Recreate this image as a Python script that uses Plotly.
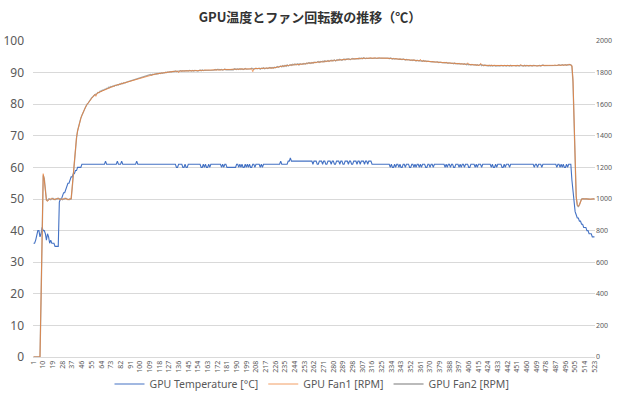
import plotly.graph_objects as go

# ---------------- data ----------------
tick_labels = [1, 10, 19, 28, 37, 46, 55, 64, 73, 82, 91, 100, 109, 118, 127, 136, 145, 154,
               163, 172, 181, 190, 199, 208, 217, 226, 235, 244, 253, 262, 271, 280, 289, 298,
               307, 316, 325, 334, 343, 352, 361, 370, 379, 388, 397, 406, 415, 424, 433, 442,
               451, 460, 469, 478, 487, 496, 505, 514, 523]

gpu_temp = [
    36, 36, 37, 39, 40, 40, 38, 39, 41, 40,
    40, 39, 37, 39, 38, 36, 37, 36, 36, 36,
    35, 35, 35, 35, 49, 50, 50, 51, 52, 52,
    53, 54, 55, 55, 56, 57, 57, 58, 58, 59,
    59, 60, 60, 60, 60, 61, 61, 61, 61, 61,
    61, 61, 61, 61, 61, 61, 61, 61, 61, 61,
    61, 61, 61, 61, 61, 61, 61, 62, 61, 61,
    61, 61, 61, 61, 61, 61, 61, 61, 62, 61,
    61, 61, 62, 61, 61, 61, 61, 61, 61, 61,
    61, 61, 61, 61, 61, 61, 62, 61, 61, 61,
    61, 61, 61, 61, 61, 61, 61, 61, 61, 61,
    61, 61, 61, 61, 61, 61, 61, 61, 61, 61,
    61, 61, 61, 61, 61, 61, 61, 61, 61, 61,
    61, 61, 61, 60, 60, 61, 61, 61, 61, 60,
    60, 61, 60, 60, 61, 61, 61, 61, 61, 61,
    61, 61, 61, 61, 61, 61, 60, 60, 61, 60,
    61, 60, 60, 61, 60, 61, 61, 61, 61, 61,
    61, 61, 61, 61, 61, 60, 61, 60, 61, 61,
    60, 60, 60, 60, 60, 60, 60, 60, 60, 61,
    61, 60, 61, 60, 61, 60, 60, 61, 60, 61,
    60, 61, 60, 60, 61, 61, 60, 61, 61, 61,
    61, 60, 61, 60, 61, 61, 61, 61, 61, 61,
    61, 61, 61, 61, 61, 61, 61, 61, 61, 61,
    62, 61, 61, 61, 61, 61, 61, 62, 62, 63,
    62, 62, 62, 62, 62, 62, 62, 62, 62, 62,
    62, 62, 62, 62, 62, 62, 62, 62, 62, 62,
    61, 62, 62, 62, 61, 61, 62, 62, 62, 61,
    62, 62, 61, 61, 62, 62, 62, 61, 62, 62,
    61, 61, 62, 62, 62, 61, 62, 62, 61, 61,
    62, 62, 62, 61, 62, 62, 61, 61, 62, 62,
    62, 61, 62, 62, 61, 62, 62, 62, 61, 62,
    62, 61, 62, 62, 62, 61, 61, 61, 61, 61,
    61, 61, 61, 61, 61, 61, 61, 61, 61, 61,
    61, 61, 60, 61, 60, 60, 61, 60, 61, 61,
    60, 61, 60, 60, 61, 61, 60, 61, 61, 61,
    60, 60, 61, 61, 60, 61, 60, 61, 61, 60,
    61, 60, 61, 61, 61, 60, 60, 61, 61, 60,
    61, 61, 60, 61, 61, 61, 61, 61, 61, 61,
    61, 61, 61, 60, 61, 60, 61, 61, 60, 61,
    61, 60, 60, 61, 61, 61, 60, 61, 60, 61,
    61, 60, 61, 61, 61, 60, 60, 61, 61, 61,
    61, 60, 61, 60, 61, 61, 61, 60, 61, 61,
    61, 61, 61, 61, 61, 61, 60, 61, 60, 60,
    61, 60, 61, 61, 61, 61, 60, 60, 61, 60,
    61, 61, 61, 60, 61, 61, 61, 61, 61, 61,
    61, 61, 61, 61, 61, 61, 61, 61, 61, 61,
    61, 61, 61, 61, 61, 61, 60, 61, 61, 60,
    61, 61, 61, 60, 61, 61, 61, 61, 61, 61,
    61, 61, 61, 61, 61, 61, 61, 60, 61, 61,
    60, 61, 60, 61, 60, 60, 61, 60, 61, 61,
    61, 56, 52, 49, 46, 45, 44, 44, 43, 43,
    42, 42, 41, 41, 41, 40, 40, 39, 39, 39,
    38, 38, 38,
]

gpu_fan1 = [
    0, 0, 0, 0, 0, 0, 0, 380, 900, 1160,
    1120, 1040, 990, 985, 995, 1000, 1000, 1005, 1000, 995,
    1000, 1000, 1005, 1000, 1000, 995, 1000, 1000, 1000, 1005,
    1000, 1000, 995, 1000, 1000, 1000, 1080, 1170, 1250, 1330,
    1390, 1430, 1465, 1490, 1510, 1530, 1548, 1562, 1578, 1590,
    1600, 1610, 1620, 1630, 1638, 1648, 1655, 1662, 1650, 1668,
    1672, 1675, 1680, 1684, 1687, 1690, 1692, 1696, 1698, 1702,
    1705, 1708, 1710, 1712, 1714, 1716, 1718, 1720, 1722, 1724,
    1726, 1728, 1730, 1732, 1734, 1736, 1740, 1738, 1744, 1746,
    1748, 1750, 1752, 1754, 1756, 1758, 1760, 1762, 1764, 1766,
    1768, 1770, 1772, 1774, 1776, 1778, 1780, 1782, 1784, 1786,
    1786, 1788, 1790, 1790, 1792, 1792, 1794, 1794, 1796, 1796,
    1798, 1798, 1800, 1800, 1802, 1802, 1804, 1804, 1806, 1806,
    1806, 1808, 1808, 1808, 1810, 1800, 1810, 1810, 1810, 1810,
    1812, 1810, 1812, 1808, 1812, 1812, 1810, 1812, 1812, 1812,
    1812, 1814, 1812, 1812, 1814, 1812, 1814, 1814, 1812, 1816,
    1814, 1816, 1816, 1814, 1816, 1816, 1818, 1816, 1818, 1816,
    1818, 1818, 1816, 1818, 1820, 1818, 1818, 1820, 1818, 1820,
    1820, 1818, 1820, 1820, 1822, 1820, 1822, 1820, 1822, 1822,
    1820, 1822, 1822, 1824, 1822, 1822, 1824, 1822, 1824, 1824,
    1822, 1824, 1826, 1824, 1806, 1824, 1826, 1824, 1826, 1826,
    1824, 1826, 1826, 1828, 1826, 1828, 1828, 1826, 1828, 1830,
    1828, 1830, 1828, 1830, 1830, 1832, 1834, 1834, 1836, 1838,
    1838, 1840, 1842, 1840, 1844, 1842, 1846, 1844, 1848, 1846,
    1850, 1846, 1852, 1848, 1854, 1848, 1852, 1850, 1854, 1852,
    1856, 1852, 1858, 1854, 1860, 1856, 1862, 1858, 1862, 1860,
    1864, 1860, 1866, 1862, 1868, 1864, 1868, 1866, 1870, 1866,
    1872, 1868, 1874, 1870, 1874, 1872, 1876, 1872, 1878, 1874,
    1878, 1876, 1880, 1876, 1882, 1878, 1882, 1880, 1884, 1880,
    1884, 1882, 1886, 1882, 1886, 1884, 1888, 1884, 1888, 1886,
    1888, 1886, 1890, 1886, 1890, 1888, 1890, 1888, 1892, 1888,
    1892, 1890, 1892, 1890, 1894, 1890, 1892, 1892, 1894, 1890,
    1892, 1892, 1894, 1892, 1892, 1894, 1892, 1892, 1890, 1892,
    1890, 1890, 1890, 1888, 1890, 1888, 1888, 1886, 1888, 1886,
    1886, 1884, 1886, 1884, 1884, 1882, 1884, 1882, 1880, 1882,
    1880, 1880, 1878, 1880, 1878, 1876, 1878, 1876, 1876, 1874,
    1884, 1874, 1874, 1872, 1874, 1872, 1872, 1870, 1872, 1870,
    1870, 1868, 1870, 1868, 1866, 1868, 1866, 1866, 1864, 1866,
    1864, 1864, 1862, 1864, 1862, 1862, 1860, 1862, 1860, 1860,
    1858, 1860, 1858, 1858, 1856, 1858, 1856, 1856, 1854, 1856,
    1854, 1854, 1852, 1854, 1862, 1852, 1850, 1852, 1850, 1850,
    1850, 1848, 1850, 1848, 1848, 1846, 1858, 1848, 1846, 1846,
    1846, 1846, 1844, 1846, 1844, 1846, 1844, 1844, 1846, 1844,
    1844, 1846, 1844, 1842, 1844, 1844, 1842, 1844, 1844, 1842,
    1844, 1842, 1844, 1844, 1842, 1844, 1842, 1844, 1842, 1844,
    1844, 1842, 1844, 1850, 1846, 1844, 1844, 1842, 1844, 1844,
    1842, 1844, 1844, 1846, 1844, 1844, 1846, 1844, 1842, 1844,
    1846, 1844, 1844, 1846, 1844, 1846, 1846, 1844, 1846, 1846,
    1844, 1846, 1846, 1844, 1846, 1848, 1846, 1846, 1848, 1846,
    1848, 1846, 1848, 1848, 1846, 1848, 1850, 1848, 1852, 1850,
    1848, 1845, 1760, 1450, 1180, 1020, 965, 955, 960, 985,
    1000, 1000, 998, 1000, 1002, 1000, 1000, 998, 1000, 1000,
    1000, 1002, 1000,
]

gpu_fan2 = [
    0, 0, 0, 0, 0, 0, 0, 360, 880, 1150,
    1130, 1030, 995, 990, 1000, 1000, 995, 1000, 1005, 1000,
    995, 1000, 1000, 1005, 1000, 1000, 1000, 995, 1000, 1000,
    1005, 1000, 1000, 995, 1000, 1000, 1070, 1160, 1245, 1325,
    1385, 1432, 1462, 1492, 1512, 1528, 1550, 1560, 1576, 1592,
    1602, 1608, 1622, 1628, 1640, 1646, 1657, 1660, 1664, 1666,
    1674, 1673, 1682, 1682, 1689, 1688, 1694, 1694, 1700, 1700,
    1707, 1706, 1712, 1710, 1716, 1714, 1720, 1718, 1724, 1722,
    1728, 1726, 1732, 1730, 1736, 1734, 1738, 1740, 1742, 1748,
    1746, 1752, 1750, 1756, 1754, 1760, 1758, 1764, 1762, 1768,
    1766, 1772, 1770, 1776, 1774, 1780, 1778, 1784, 1782, 1788,
    1784, 1790, 1788, 1792, 1790, 1794, 1792, 1796, 1794, 1798,
    1796, 1800, 1798, 1802, 1800, 1804, 1802, 1806, 1804, 1808,
    1808, 1806, 1810, 1806, 1808, 1810, 1808, 1812, 1808, 1812,
    1810, 1812, 1810, 1812, 1810, 1814, 1812, 1810, 1814, 1810,
    1814, 1812, 1814, 1810, 1812, 1816, 1812, 1816, 1814, 1814,
    1816, 1814, 1818, 1816, 1814, 1818, 1816, 1818, 1816, 1820,
    1816, 1820, 1818, 1816, 1818, 1820, 1816, 1818, 1822, 1818,
    1818, 1822, 1818, 1822, 1820, 1822, 1818, 1824, 1820, 1820,
    1824, 1820, 1824, 1820, 1824, 1820, 1822, 1826, 1822, 1822,
    1826, 1822, 1824, 1828, 1824, 1822, 1824, 1828, 1824, 1828,
    1828, 1822, 1828, 1826, 1830, 1824, 1826, 1830, 1826, 1828,
    1832, 1828, 1832, 1828, 1834, 1830, 1832, 1838, 1834, 1836,
    1842, 1836, 1844, 1838, 1846, 1840, 1848, 1842, 1846, 1850,
    1846, 1852, 1848, 1854, 1850, 1852, 1856, 1848, 1856, 1854,
    1852, 1858, 1854, 1856, 1858, 1860, 1858, 1862, 1858, 1864,
    1860, 1866, 1864, 1864, 1866, 1870, 1864, 1870, 1868, 1872,
    1868, 1874, 1870, 1872, 1876, 1870, 1874, 1878, 1874, 1876,
    1880, 1874, 1878, 1882, 1878, 1884, 1880, 1878, 1882, 1886,
    1880, 1886, 1884, 1888, 1884, 1882, 1886, 1890, 1886, 1888,
    1890, 1888, 1886, 1892, 1888, 1892, 1888, 1894, 1890, 1890,
    1890, 1894, 1890, 1892, 1890, 1894, 1894, 1890, 1892, 1894,
    1894, 1890, 1892, 1894, 1894, 1890, 1894, 1890, 1892, 1890,
    1892, 1888, 1892, 1890, 1886, 1890, 1886, 1888, 1886, 1888,
    1884, 1886, 1884, 1882, 1886, 1884, 1880, 1884, 1882, 1880,
    1882, 1878, 1880, 1876, 1880, 1878, 1874, 1878, 1874, 1876,
    1874, 1876, 1872, 1876, 1872, 1874, 1870, 1872, 1870, 1872,
    1868, 1870, 1868, 1866, 1868, 1866, 1868, 1864, 1866, 1864,
    1866, 1862, 1864, 1860, 1864, 1860, 1862, 1860, 1862, 1858,
    1860, 1856, 1860, 1856, 1858, 1854, 1858, 1854, 1856, 1854,
    1852, 1856, 1854, 1850, 1854, 1850, 1852, 1848, 1852, 1848,
    1848, 1850, 1846, 1850, 1846, 1848, 1852, 1844, 1848, 1844,
    1848, 1844, 1846, 1842, 1846, 1842, 1846, 1842, 1844, 1846,
    1842, 1844, 1846, 1844, 1842, 1846, 1844, 1842, 1846, 1844,
    1842, 1846, 1842, 1842, 1846, 1842, 1844, 1846, 1844, 1842,
    1846, 1844, 1842, 1846, 1844, 1846, 1842, 1846, 1842, 1846,
    1844, 1842, 1846, 1844, 1842, 1846, 1844, 1846, 1844, 1842,
    1844, 1846, 1842, 1844, 1848, 1844, 1844, 1848, 1844, 1844,
    1848, 1844, 1844, 1848, 1844, 1846, 1848, 1844, 1846, 1850,
    1846, 1848, 1850, 1846, 1848, 1850, 1846, 1850, 1848, 1852,
    1850, 1840, 1740, 1430, 1160, 1010, 960, 950, 965, 990,
    1000, 1002, 1000, 998, 1000, 1000, 1002, 1000, 998, 1000,
    1000, 1000, 1002,
]

samples = list(range(1, len(gpu_temp) + 1))

# ---------------- figure ----------------
fig = go.Figure()
fig.add_trace(go.Scatter(x=samples, y=gpu_temp, mode="lines", name="GPU Temperature [°C]",
                         line=dict(color="#4472C4", width=1.1), yaxis="y", legendrank=1))
fig.add_trace(go.Scatter(x=samples, y=gpu_fan2, mode="lines", name="GPU Fan2 [RPM]",
                         line=dict(color="#A5A5A5", width=1.3), yaxis="y2", legendrank=3))
fig.add_trace(go.Scatter(x=samples, y=gpu_fan1, mode="lines", name="GPU Fan1 [RPM]",
                         line=dict(color="#ED7D31", width=1.0), opacity=0.75,
                         yaxis="y2", legendrank=2))

grid = "#D9D9D9"
txt = "#595959"

fig.update_layout(
    width=620, height=403,
    margin=dict(l=33, r=25, t=41, b=46, autoexpand=False),
    paper_bgcolor="white", plot_bgcolor="white",
    font=dict(family="Noto Sans, Noto Sans CJK JP, sans-serif", color=txt),
    title=dict(text="<b>GPU温度とファン回転数の推移（℃）</b>",
               font=dict(family="Noto Sans CJK JP", size=13, color="#333333"),
               x=0.5, xref="container", xanchor="center",
               y=1 - 17 / 403, yref="container", yanchor="middle"),
    xaxis=dict(range=[0.5, len(gpu_temp) + 0.5], tickmode="array",
               tickvals=tick_labels, ticktext=[str(v) for v in tick_labels],
               tickangle=-90, tickfont=dict(size=7, color=txt),
               showgrid=False, zeroline=False, showline=True, linecolor=grid, linewidth=1,
               ticks="", automargin=False),
    yaxis=dict(range=[0, 100], dtick=10, showgrid=True, gridcolor=grid, gridwidth=1,
               zeroline=False, showline=False, tickfont=dict(size=12, color=txt),
               ticklabelstandoff=8, automargin=False),
    yaxis2=dict(range=[0, 2000], dtick=200, overlaying="y", side="right",
                showgrid=False, zeroline=False, showline=False,
                tickfont=dict(size=7, color=txt), automargin=False),
    legend=dict(orientation="h", x=(312 - 33) / 562, xanchor="center",
                y=(357 - 384) / 316, yanchor="middle", bgcolor="rgba(0,0,0,0)",
                font=dict(size=10.5, color=txt), tracegroupgap=0),
    showlegend=True,
)

fig.write_html("out.html", config={"displayModeBar": False},
               post_script="document.body.style.margin='0';document.body.style.padding='0';")
